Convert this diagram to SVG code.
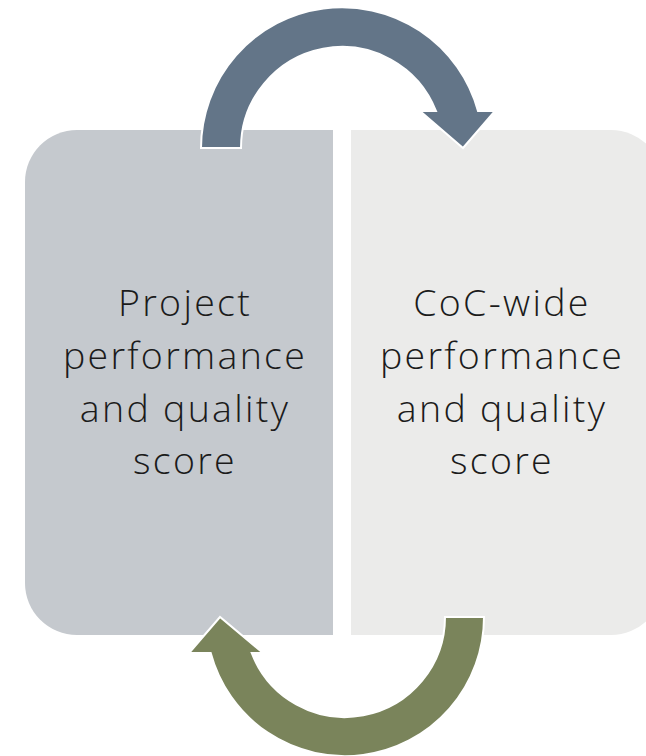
<svg xmlns="http://www.w3.org/2000/svg" width="646" height="756" viewBox="0 0 646 756">
<style>
  .lbl { font-family: "Open Sans", "Segoe UI", "Liberation Sans", sans-serif; font-weight: 300; font-size: 37.5px; letter-spacing: 2.3px; fill: #1b1b1b; text-anchor: middle; }
  .arrow { stroke: #ffffff; stroke-width: 2; stroke-linejoin: miter; }
</style>
<rect width="646" height="756" fill="#ffffff"/>
<g id="node-project">
  <path d="M333,130 L77,130 A52,52 0 0 0 25,182 L25,583 A52,52 0 0 0 77,635 L333,635 Z" fill="#C5C9CE"/>
  <text class="lbl" x="185" y="316">Project</text>
  <text class="lbl" x="185" y="369">performance</text>
  <text class="lbl" x="185" y="422">and quality</text>
  <text class="lbl" x="185" y="474">score</text>
</g>
<g id="node-coc">
  <path d="M351,130 L611,130 A52,52 0 0 1 663,182 L663,583 A52,52 0 0 1 611,635 L351,635 Z" fill="#EBEBEA"/>
  <text class="lbl" x="502" y="316">CoC-wide</text>
  <text class="lbl" x="502" y="369">performance</text>
  <text class="lbl" x="502" y="422">and quality</text>
  <text class="lbl" x="502" y="474">score</text>
</g>
<g id="connectors">
  <path class="arrow" fill="#637588" d="M201,148 A141,141 0 0 1 478,111 L495,111 L463,148 L420,111 L436,111 A101,101 0 0 0 241,148 Z"/>
  <path class="arrow" fill="#7A845B" d="M484,617 A139,139 0 0 1 210.7,653 L189,653 L220,617 L263,653 L251.7,653 A100,100 0 0 0 445,617 Z"/>
</g>
</svg>
